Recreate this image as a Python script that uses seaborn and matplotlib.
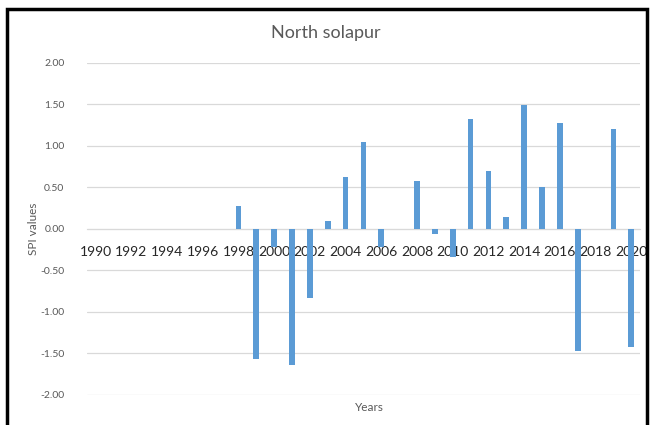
import matplotlib
matplotlib.use("Agg")
import matplotlib.pyplot as plt
import seaborn as sns
import pandas as pd
from matplotlib.patches import Rectangle

years = [str(y) for y in range(1990, 2021)]
spi = [0, 0, 0, 0, 0, 0, 0, 0,
       0.28, -1.57, -0.22, -1.64, -0.83, 0.10, 0.63, 1.05, -0.22, 0,
       0.58, -0.06, -0.34, 1.32, 0.70, 0.14, 1.49, 0.51, 1.28, -1.47,
       0, 1.20, -1.42]
yticks = [-2.0, -1.5, -1.0, -0.5, 0.0, 0.5, 1.0, 1.5, 2.0]

df = pd.DataFrame({"Years": years, "SPI": spi})

sns.set_style("white")
plt.rcParams["font.family"] = ["Lato", "DejaVu Sans"]
txt = "#595959"

fig = plt.figure(figsize=(6.52, 4.25), dpi=100)
ax = fig.add_axes([0.133, 0.0706, 0.849, 0.7814])

sns.barplot(data=df, x="Years", y="SPI", color="#5B9BD5", width=0.32,
            saturation=1, linewidth=0, ax=ax, zorder=3)

ax.set_ylim(-2, 2)
ax.set_yticks(yticks)
ax.set_yticklabels([f"{v:.2f}" for v in yticks], color=txt, fontsize=7.5)
for v in yticks:
    ax.axhline(v, color="#D9D9D9", lw=0.9, zorder=1)

ax.set_xticks(range(0, len(years), 2))
ax.set_xticklabels(years[::2], color=txt, fontsize=7)
ax.tick_params(axis="x", length=0, pad=12)
ax.tick_params(axis="y", length=0, pad=16)
ax.spines["bottom"].set_position(("data", 0))
ax.spines["bottom"].set_color("#D9D9D9")
for s in ["top", "right", "left"]:
    ax.spines[s].set_visible(False)

ax.set_xlabel("")
ax.set_ylabel("")
fig.text(0.051, 0.461, "SPI values", rotation=90, ha="center", va="center",
         color=txt, fontsize=8.5)
fig.text(0.567, 0.042, "Years", ha="center", va="center", color=txt, fontsize=8.5)
fig.text(0.5, 0.922, "North solapur", ha="center", va="center", color=txt, fontsize=13)

fig.patches.append(Rectangle((0.011, -0.05), 0.981, 1.03, transform=fig.transFigure,
                             fill=False, edgecolor="black", lw=2.5))

fig.savefig("out.png", dpi=100)
